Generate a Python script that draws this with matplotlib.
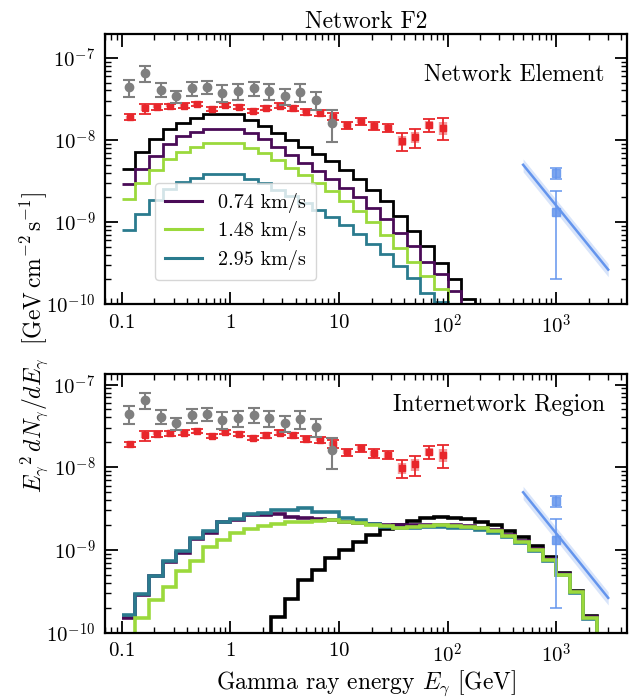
import numpy as np
import matplotlib
matplotlib.use("Agg")
import matplotlib.pyplot as plt
from matplotlib.ticker import FixedLocator, FixedFormatter, LogLocator, NullFormatter

plt.rcParams.update({
    "font.family": "serif",
    "font.serif": ["cmr10"],
    "mathtext.fontset": "cm",
    "axes.unicode_minus": False,
    "axes.formatter.use_mathtext": True,
})

# ---------------- data ----------------
# histogram bin edges (log10 of energy in GeV)
edges_log = [-1.0, -0.875, -0.75, -0.625, -0.5, -0.375, -0.25, -0.125, 0.0,
             0.125, 0.25, 0.375, 0.5, 0.625, 0.75, 0.875, 1.0, 1.125, 1.25,
             1.375, 1.5, 1.625, 1.75, 1.875, 2.0, 2.125, 2.25, 2.375, 2.5,
             2.625, 2.75, 2.875, 3.0, 3.125, 3.25, 3.375, 3.5]

labels = ["0.74 km/s", "1.48 km/s", "2.95 km/s"]

# Network element (top panel)
net_black = [4.44e-9, 7.1e-9, 1.02e-8, 1.35e-8, 1.62e-8, 1.87e-8, 2.07e-8, 2.07e-8, 2.07e-8,
             1.75e-8, 1.48e-8, 1.21e-8, 1.0e-8, 8.15e-9, 6.7e-9, 5.5e-9, 4.32e-9, 3.33e-9,
             2.47e-9, 1.78e-9, 1.19e-9, 7.8e-10, 5.1e-10, 3.2e-10, 2.0e-10, 1.15e-10, 1e-12]
net_074 = [2.92e-9, 4.41e-9, 6.39e-9, 8.94e-9, 1.12e-8, 1.24e-8, 1.35e-8, 1.35e-8, 1.35e-8,
           1.21e-8, 1.02e-8, 8.3e-9, 6.58e-9, 5.26e-9, 4.2e-9, 3.33e-9, 2.59e-9, 2.01e-9,
           1.48e-9, 1.09e-9, 7.35e-10, 5.05e-10, 3.23e-10, 2.29e-10, 1.43e-10, 1e-12]
net_148 = [1.91e-9, 2.98e-9, 4.32e-9, 5.82e-9, 7.21e-9, 8.3e-9, 9.12e-9, 9.12e-9, 9.12e-9,
           7.93e-9, 6.89e-9, 5.71e-9, 4.6e-9, 3.76e-9, 3.0e-9, 2.35e-9, 1.78e-9, 1.37e-9,
           9.89e-10, 7.01e-10, 4.83e-10, 3.23e-10, 2.18e-10, 1.53e-10, 1e-12]
net_295 = [8.05e-10, 1.26e-9, 1.87e-9, 2.52e-9, 3.03e-9, 3.45e-9, 3.86e-9, 3.86e-9, 3.86e-9,
           3.33e-9, 2.98e-9, 2.47e-9, 2.05e-9, 1.70e-9, 1.41e-9, 1.16e-9, 9.27e-10, 7.21e-10,
           5.37e-10, 4.06e-10, 2.94e-10, 2.08e-10, 1.37e-10, 1.06e-10, 1e-12]

# Internetwork region (bottom panel)
int_black = [1e-12, 1e-12, 1e-12, 1e-12, 1e-12, 1e-12, 1e-12, 1e-12, 1e-12, 1e-12, 1e-12,
             1.56e-10, 2.55e-10, 4.34e-10, 5.73e-10, 7.9e-10, 1.0e-9, 1.26e-9, 1.5e-9,
             1.78e-9, 1.97e-9, 2.23e-9, 2.4e-9, 2.48e-9, 2.45e-9, 2.38e-9, 2.17e-9, 1.97e-9,
             1.69e-9, 1.42e-9, 1.11e-9, 8.2e-10, 5.3e-10, 3.2e-10, 1.58e-10, 1e-12]
int_074 = [1.49e-10, 2.86e-10, 4.76e-10, 7.22e-10, 9.28e-10, 1.35e-9, 1.62e-9, 2.18e-9, 2.31e-9,
           2.65e-9, 2.62e-9, 2.68e-9, 2.53e-9, 2.42e-9, 2.35e-9, 2.28e-9, 2.2e-9, 2.14e-9,
           2.08e-9, 2.02e-9, 1.97e-9, 1.97e-9, 2.0e-9, 2.02e-9, 1.98e-9, 1.95e-9, 1.86e-9,
           1.73e-9, 1.5e-9, 1.27e-9, 1.01e-9, 7.7e-10, 5.05e-10, 3.1e-10, 1.52e-10, 1e-12]
int_148 = [1e-12, 1.49e-10, 2.48e-10, 3.6e-10, 5.47e-10, 7.43e-10, 1.08e-9, 1.32e-9, 1.62e-9,
           1.78e-9, 1.95e-9, 2.06e-9, 2.16e-9, 2.2e-9, 2.26e-9, 2.31e-9, 2.2e-9, 2.14e-9,
           2.0e-9, 1.95e-9, 1.83e-9, 1.88e-9, 1.95e-9, 2.0e-9, 1.95e-9, 1.91e-9, 1.83e-9,
           1.71e-9, 1.48e-9, 1.26e-9, 1.0e-9, 7.57e-10, 4.99e-10, 3.05e-10, 1.49e-10, 1e-12]
int_295 = [1.64e-10, 2.94e-10, 4.85e-10, 7.36e-10, 9.72e-10, 1.38e-9, 1.67e-9, 2.18e-9, 2.35e-9,
           2.72e-9, 2.78e-9, 3.05e-9, 3.0e-9, 3.25e-9, 2.83e-9, 2.87e-9, 2.42e-9, 2.31e-9,
           2.06e-9, 1.88e-9, 1.83e-9, 1.86e-9, 1.88e-9, 1.9e-9, 1.86e-9, 1.83e-9, 1.76e-9,
           1.62e-9, 1.42e-9, 1.22e-9, 9.7e-10, 7.4e-10, 4.9e-10, 3.0e-10, 1.47e-10, 1e-12]

# gray data points
gray_E = [0.117, 0.165, 0.228, 0.315, 0.445, 0.614, 0.846, 1.18, 1.64, 2.28, 3.21, 4.42, 6.14, 8.68]
gray_F = [4.37e-8, 6.52e-8, 4.1e-8, 3.38e-8, 4.25e-8, 4.41e-8, 3.76e-8, 3.91e-8, 4.28e-8,
          3.91e-8, 3.42e-8, 3.86e-8, 3.09e-8, 1.61e-8]
gray_err = [1.05e-8, 1.4e-8, 0.8e-8, 0.53e-8, 0.8e-8, 0.8e-8, 0.87e-8, 0.85e-8, 0.85e-8,
            0.85e-8, 0.73e-8, 0.95e-8, 0.75e-8, 0.67e-8]

# red data points
red_E = [0.12, 0.162, 0.212, 0.28, 0.374, 0.497, 0.673, 0.886, 1.19, 1.6, 2.15, 2.85,
         3.78, 5.02, 6.65, 8.9, 11.8, 15.9, 21.1, 28.4, 37.7, 50.7, 67.3, 91.1]
red_F = [1.89e-8, 2.43e-8, 2.54e-8, 2.59e-8, 2.61e-8, 2.72e-8, 2.38e-8, 2.66e-8, 2.54e-8,
         2.27e-8, 2.43e-8, 2.61e-8, 2.43e-8, 2.21e-8, 2.15e-8, 1.92e-8, 1.52e-8, 1.70e-8,
         1.48e-8, 1.41e-8, 9.8e-9, 1.08e-8, 1.52e-8, 1.41e-8]
red_rel = [0.08, 0.14, 0.08, 0.07, 0.07, 0.06, 0.06, 0.06, 0.06, 0.06, 0.06, 0.07,
           0.07, 0.08, 0.08, 0.10, 0.10, 0.10, 0.12, 0.12, 0.25, 0.27, 0.18, 0.30]

# blue (TeV) points and power-law fit
blue_E = [1000.0, 1000.0]
blue_F = [3.94e-9, 1.32e-9]
blue_lo = [3.33e-9, 1.99e-10]
blue_hi = [4.53e-9, 2.35e-9]
fit_norm = 1.59e-9      # E^2 dN/dE at 1 TeV
fit_slope = -1.63       # slope of E^2 dN/dE
fit_band = 0.18         # fractional band width
fit_range = [497.0, 3020.0]

# ---------------- styling ----------------
c_black = "black"
c_074 = "#4a0b57"
c_148 = "#9bd93c"
c_295 = "#2a7b8e"
c_red = "#e8262b"
c_gray = "#7f7f7f"
c_blue = "#6495ed"

fig = plt.figure(figsize=(6.32, 6.98), dpi=100)
W, H = 632, 698
ax1 = fig.add_axes([105 / W, 1 - 304 / H, 522 / W, 270 / H])
ax2 = fig.add_axes([105 / W, 1 - 632.5 / H, 522 / W, 258.5 / H])

edges = 10 ** np.array(edges_log)


def draw_data(ax):
    # gray
    ax.errorbar(gray_E, gray_F, yerr=gray_err, fmt="o", color=c_gray, ms=6,
                capsize=4, elinewidth=1.5, capthick=1.5, zorder=5)
    # red with boxes
    rF = np.array(red_F)
    rr = np.array(red_rel)
    ax.errorbar(red_E, rF, yerr=rF * rr * 0.6, fmt="none", ecolor=c_red, alpha=0.45,
                elinewidth=6, zorder=4)
    ax.errorbar(red_E, rF, yerr=rF * rr, fmt="s", color=c_red, ms=5,
                capsize=4, elinewidth=1.3, capthick=1.3, zorder=4)
    # blue
    bF = np.array(blue_F)
    yerr = [bF - np.array(blue_lo), np.array(blue_hi) - bF]
    ax.errorbar(blue_E, bF, yerr=yerr, fmt="s", color=c_blue, ms=6, alpha=0.85,
                capsize=4, elinewidth=1.3, capthick=1.3, zorder=4)
    Eg = np.logspace(np.log10(fit_range[0]), np.log10(fit_range[1]), 60)
    Fg = fit_norm * (Eg / 1000.0) ** fit_slope
    ax.fill_between(Eg, Fg * (1 - fit_band), Fg * (1 + fit_band), color=c_blue,
                    alpha=0.25, lw=0, zorder=3)
    ax.plot(Eg, Fg, color=c_blue, lw=1.8, zorder=3)


def style(ax, ytop):
    ax.set_xscale("log")
    ax.set_yscale("log")
    ax.set_xlim(0.07, 4500)
    ax.set_ylim(1e-10, ytop)
    ax.xaxis.set_major_locator(FixedLocator([0.1, 1, 10, 100, 1000]))
    ax.xaxis.set_major_formatter(FixedFormatter([r"$0.1$", r"$1$", r"$10$", r"$10^2$", r"$10^3$"]))
    ax.xaxis.set_minor_locator(LogLocator(base=10, subs=np.arange(2, 10), numticks=20))
    ax.xaxis.set_minor_formatter(NullFormatter())
    ax.yaxis.set_major_locator(FixedLocator([1e-10, 1e-9, 1e-8, 1e-7]))
    ax.yaxis.set_major_formatter(FixedFormatter([r"$10^{-10}$", r"$10^{-9}$", r"$10^{-8}$", r"$10^{-7}$"]))
    ax.yaxis.set_minor_locator(LogLocator(base=10, subs=np.arange(2, 10), numticks=20))
    ax.yaxis.set_minor_formatter(NullFormatter())
    ax.tick_params(which="both", direction="in", top=True, right=True)
    ax.tick_params(which="major", length=9, width=1.3, labelsize=15, pad=7)
    ax.tick_params(which="minor", length=4.5, width=1.0)
    for s in ax.spines.values():
        s.set_linewidth(1.6)


# top panel
ax1.stairs(net_black, edges[:len(net_black) + 1], baseline=None, color=c_black, lw=2)
ax1.stairs(net_074, edges[:len(net_074) + 1], baseline=None, color=c_074, lw=2, label=labels[0])
ax1.stairs(net_148, edges[:len(net_148) + 1], baseline=None, color=c_148, lw=2, label=labels[1])
ax1.stairs(net_295, edges[:len(net_295) + 1], baseline=None, color=c_295, lw=2, label=labels[2])
draw_data(ax1)
style(ax1, 1.95e-7)
ax1.set_title("Network F2", fontsize=17, pad=4)
ax1.text(0.957, 0.85, "Network Element", transform=ax1.transAxes, ha="right", va="center", fontsize=17)
leg = ax1.legend(loc="lower left", bbox_to_anchor=(0.077, 0.052), fontsize=14.5, handlelength=1.8,
                 frameon=True, fancybox=True, framealpha=0.8, edgecolor="#cccccc",
                 borderpad=0.5, labelspacing=0.42)
leg.get_frame().set_linewidth(1.0)
for h in leg.get_lines():
    h.set_linewidth(2.2)

# bottom panel
ax2.stairs(int_black, edges[:len(int_black) + 1], baseline=None, color=c_black, lw=2.6)
ax2.stairs(int_074, edges[:len(int_074) + 1], baseline=None, color=c_074, lw=2.6)
ax2.stairs(int_295, edges[:len(int_295) + 1], baseline=None, color=c_295, lw=2.6)
ax2.stairs(int_148, edges[:len(int_148) + 1], baseline=None, color=c_148, lw=2.6)
draw_data(ax2)
style(ax2, 1.34e-7)
ax2.text(0.957, 0.88, "Internetwork Region", transform=ax2.transAxes, ha="right", va="center", fontsize=17)
ax2.set_xlabel(r"Gamma ray energy $E_\gamma$ [GeV]", fontsize=17, labelpad=2)

fig.text(0.054, 0.51, r"$E_\gamma{}^2\,dN_\gamma/dE_\gamma\ \ [\mathrm{GeV\,cm^{-2}\,s^{-1}}]$",
         rotation=90, ha="center", va="center", fontsize=17)

fig.savefig("out.png", dpi=100)
